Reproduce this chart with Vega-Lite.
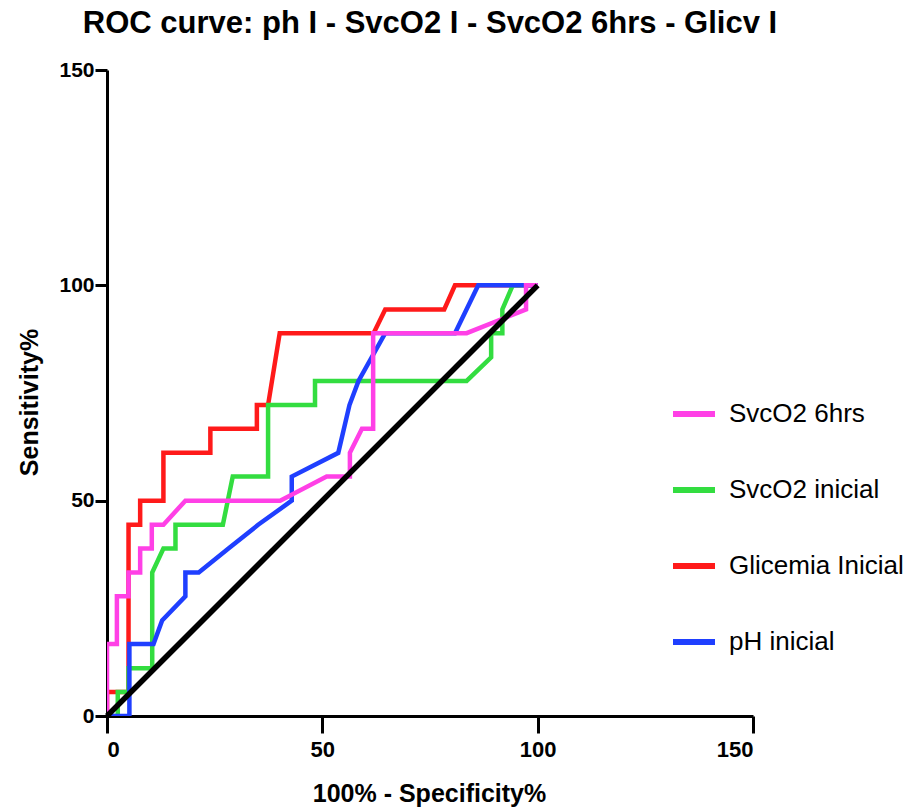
{
  "$schema": "https://vega.github.io/schema/vega-lite/v6.json",
  "width": 646,
  "height": 646,
  "autosize": {"type": "none"},
  "padding": {"left": 107, "top": 70, "right": 160, "bottom": 91},
  "background": "white",
  "title": {
    "text": "ROC curve: ph I - SvcO2 I - SvcO2 6hrs - Glicv I",
    "font": "Liberation Sans",
    "fontSize": 31,
    "fontWeight": "bold",
    "color": "black",
    "anchor": "middle",
    "frame": "group",
    "baseline": "alphabetic",
    "offset": 26,
    "dy": 31
  },
  "config": {
    "view": {"stroke": null},
    "axis": {
      "grid": false,
      "domainColor": "black",
      "domainWidth": 3,
      "tickColor": "black",
      "tickWidth": 3,
      "labelFont": "Liberation Sans",
      "labelFontWeight": "bold",
      "labelColor": "black",
      "titleFont": "Liberation Sans",
      "titleFontWeight": "bold",
      "titleColor": "black",
      "titleFontSize": 25
    }
  },
  "data": {
    "values": [
      {"s": "Glicemia Inicial", "i": 0, "x": 0, "y": 0},
      {"s": "Glicemia Inicial", "i": 1, "x": 0, "y": 5.56},
      {"s": "Glicemia Inicial", "i": 2, "x": 5.0, "y": 5.56},
      {"s": "Glicemia Inicial", "i": 3, "x": 5.0, "y": 44.4},
      {"s": "Glicemia Inicial", "i": 4, "x": 7.7, "y": 44.4},
      {"s": "Glicemia Inicial", "i": 5, "x": 7.7, "y": 50},
      {"s": "Glicemia Inicial", "i": 6, "x": 13.1, "y": 50},
      {"s": "Glicemia Inicial", "i": 7, "x": 13.1, "y": 61.1},
      {"s": "Glicemia Inicial", "i": 8, "x": 24.0, "y": 61.1},
      {"s": "Glicemia Inicial", "i": 9, "x": 24.0, "y": 66.7},
      {"s": "Glicemia Inicial", "i": 10, "x": 34.8, "y": 66.7},
      {"s": "Glicemia Inicial", "i": 11, "x": 34.8, "y": 72.2},
      {"s": "Glicemia Inicial", "i": 12, "x": 37.4, "y": 72.2},
      {"s": "Glicemia Inicial", "i": 13, "x": 40.1, "y": 88.9},
      {"s": "Glicemia Inicial", "i": 14, "x": 61.9, "y": 88.9},
      {"s": "Glicemia Inicial", "i": 15, "x": 64.6, "y": 94.4},
      {"s": "Glicemia Inicial", "i": 16, "x": 78.3, "y": 94.4},
      {"s": "Glicemia Inicial", "i": 17, "x": 80.8, "y": 100},
      {"s": "Glicemia Inicial", "i": 18, "x": 100, "y": 100},

      {"s": "SvcO2 inicial", "i": 0, "x": 0, "y": 0},
      {"s": "SvcO2 inicial", "i": 1, "x": 2.5, "y": 0},
      {"s": "SvcO2 inicial", "i": 2, "x": 2.5, "y": 5.56},
      {"s": "SvcO2 inicial", "i": 3, "x": 5.0, "y": 5.56},
      {"s": "SvcO2 inicial", "i": 4, "x": 5.0, "y": 11.1},
      {"s": "SvcO2 inicial", "i": 5, "x": 10.5, "y": 11.1},
      {"s": "SvcO2 inicial", "i": 6, "x": 10.5, "y": 33.3},
      {"s": "SvcO2 inicial", "i": 7, "x": 13.1, "y": 38.9},
      {"s": "SvcO2 inicial", "i": 8, "x": 15.9, "y": 38.9},
      {"s": "SvcO2 inicial", "i": 9, "x": 15.9, "y": 44.4},
      {"s": "SvcO2 inicial", "i": 10, "x": 26.9, "y": 44.4},
      {"s": "SvcO2 inicial", "i": 11, "x": 29.2, "y": 55.6},
      {"s": "SvcO2 inicial", "i": 12, "x": 37.4, "y": 55.6},
      {"s": "SvcO2 inicial", "i": 13, "x": 37.4, "y": 72.2},
      {"s": "SvcO2 inicial", "i": 14, "x": 48.3, "y": 72.2},
      {"s": "SvcO2 inicial", "i": 15, "x": 48.3, "y": 77.8},
      {"s": "SvcO2 inicial", "i": 16, "x": 83.5, "y": 77.8},
      {"s": "SvcO2 inicial", "i": 17, "x": 89.2, "y": 83.3},
      {"s": "SvcO2 inicial", "i": 18, "x": 89.2, "y": 88.9},
      {"s": "SvcO2 inicial", "i": 19, "x": 91.8, "y": 88.9},
      {"s": "SvcO2 inicial", "i": 20, "x": 91.8, "y": 94.4},
      {"s": "SvcO2 inicial", "i": 21, "x": 94.2, "y": 100},
      {"s": "SvcO2 inicial", "i": 22, "x": 100, "y": 100},

      {"s": "pH inicial", "i": 0, "x": 0, "y": 0},
      {"s": "pH inicial", "i": 1, "x": 5.2, "y": 0},
      {"s": "pH inicial", "i": 2, "x": 5.2, "y": 16.7},
      {"s": "pH inicial", "i": 3, "x": 10.8, "y": 16.7},
      {"s": "pH inicial", "i": 4, "x": 12.8, "y": 22.2},
      {"s": "pH inicial", "i": 5, "x": 18.2, "y": 27.8},
      {"s": "pH inicial", "i": 6, "x": 18.2, "y": 33.3},
      {"s": "pH inicial", "i": 7, "x": 21.3, "y": 33.3},
      {"s": "pH inicial", "i": 8, "x": 28.2, "y": 38.9},
      {"s": "pH inicial", "i": 9, "x": 35.1, "y": 44.4},
      {"s": "pH inicial", "i": 10, "x": 42.9, "y": 50},
      {"s": "pH inicial", "i": 11, "x": 42.9, "y": 55.6},
      {"s": "pH inicial", "i": 12, "x": 53.7, "y": 61.1},
      {"s": "pH inicial", "i": 13, "x": 56.3, "y": 72.2},
      {"s": "pH inicial", "i": 14, "x": 58.4, "y": 77.8},
      {"s": "pH inicial", "i": 15, "x": 64.6, "y": 88.9},
      {"s": "pH inicial", "i": 16, "x": 80.8, "y": 88.9},
      {"s": "pH inicial", "i": 17, "x": 86.2, "y": 100},
      {"s": "pH inicial", "i": 18, "x": 100, "y": 100},

      {"s": "SvcO2 6hrs", "i": 0, "x": 0, "y": 0},
      {"s": "SvcO2 6hrs", "i": 1, "x": 0, "y": 16.7},
      {"s": "SvcO2 6hrs", "i": 2, "x": 2.3, "y": 16.7},
      {"s": "SvcO2 6hrs", "i": 3, "x": 2.3, "y": 27.8},
      {"s": "SvcO2 6hrs", "i": 4, "x": 5.0, "y": 27.8},
      {"s": "SvcO2 6hrs", "i": 5, "x": 5.0, "y": 33.3},
      {"s": "SvcO2 6hrs", "i": 6, "x": 7.7, "y": 33.3},
      {"s": "SvcO2 6hrs", "i": 7, "x": 7.7, "y": 38.9},
      {"s": "SvcO2 6hrs", "i": 8, "x": 10.4, "y": 38.9},
      {"s": "SvcO2 6hrs", "i": 9, "x": 10.4, "y": 44.4},
      {"s": "SvcO2 6hrs", "i": 10, "x": 13.1, "y": 44.4},
      {"s": "SvcO2 6hrs", "i": 11, "x": 18.2, "y": 50},
      {"s": "SvcO2 6hrs", "i": 12, "x": 40.2, "y": 50},
      {"s": "SvcO2 6hrs", "i": 13, "x": 51.0, "y": 55.6},
      {"s": "SvcO2 6hrs", "i": 14, "x": 56.4, "y": 55.6},
      {"s": "SvcO2 6hrs", "i": 15, "x": 56.4, "y": 61.1},
      {"s": "SvcO2 6hrs", "i": 16, "x": 59.2, "y": 66.7},
      {"s": "SvcO2 6hrs", "i": 17, "x": 61.8, "y": 66.7},
      {"s": "SvcO2 6hrs", "i": 18, "x": 61.8, "y": 88.9},
      {"s": "SvcO2 6hrs", "i": 19, "x": 83.5, "y": 88.9},
      {"s": "SvcO2 6hrs", "i": 20, "x": 97.3, "y": 94.4},
      {"s": "SvcO2 6hrs", "i": 21, "x": 97.3, "y": 100},
      {"s": "SvcO2 6hrs", "i": 22, "x": 100, "y": 100}
    ]
  },
  "encoding": {
    "x": {
      "field": "x",
      "type": "quantitative",
      "scale": {"domain": [0, 150], "nice": false, "zero": false},
      "axis": {
        "values": [0, 50, 100, 150],
        "title": "100% - Specificity%",
        "labelFontSize": 22,
        "labelPadding": 6,
        "tickSize": 17,
        "titleX": 322,
        "titleY": 85,
        "titleAnchor": null,
        "titleAlign": "center",
        "titleBaseline": "alphabetic"
      }
    },
    "y": {
      "field": "y",
      "type": "quantitative",
      "scale": {"domain": [0, 150], "nice": false, "zero": false},
      "axis": {
        "values": [0, 50, 100, 150],
        "title": "Sensitivity%",
        "labelFontSize": 21,
        "labelPadding": 1,
        "tickSize": 12,
        "titleX": -70,
        "titleY": 332,
        "titleAngle": -90,
        "titleAlign": "center",
        "titleBaseline": "alphabetic"
      }
    }
  },
  "layer": [
    {
      "transform": [{"filter": "datum.s === 'Glicemia Inicial'"}],
      "mark": {"type": "line", "strokeWidth": 4.5, "clip": true},
      "encoding": {
        "color": {
          "field": "s", "type": "nominal",
          "scale": {"domain": ["SvcO2 6hrs", "SvcO2 inicial", "Glicemia Inicial", "pH inicial"], "range": ["#FF40E6", "#33DD40", "#FF1A1A", "#1F3FFF"]},
          "legend": {"title": null, "orient": "none", "legendX": 563, "legendY": 320, "symbolType": "stroke", "symbolSize": 1764, "symbolStrokeWidth": 6, "labelFont": "Liberation Sans", "labelFontSize": 26, "labelColor": "black", "labelOffset": 11, "labelLimit": 0, "rowPadding": 39, "padding": 0}
        },
        "order": {"field": "i", "type": "quantitative"}
      }
    },
    {
      "transform": [{"filter": "datum.s === 'SvcO2 inicial'"}],
      "mark": {"type": "line", "strokeWidth": 4.5, "clip": true},
      "encoding": {
        "color": {
          "field": "s", "type": "nominal",
          "scale": {"domain": ["SvcO2 6hrs", "SvcO2 inicial", "Glicemia Inicial", "pH inicial"], "range": ["#FF40E6", "#33DD40", "#FF1A1A", "#1F3FFF"]},
          "legend": {"title": null, "orient": "none", "legendX": 563, "legendY": 320, "symbolType": "stroke", "symbolSize": 1764, "symbolStrokeWidth": 6, "labelFont": "Liberation Sans", "labelFontSize": 26, "labelColor": "black", "labelOffset": 11, "labelLimit": 0, "rowPadding": 39, "padding": 0}
        },
        "order": {"field": "i", "type": "quantitative"}
      }
    },
    {
      "transform": [{"filter": "datum.s === 'pH inicial'"}],
      "mark": {"type": "line", "strokeWidth": 4.5, "clip": true},
      "encoding": {
        "color": {
          "field": "s", "type": "nominal",
          "scale": {"domain": ["SvcO2 6hrs", "SvcO2 inicial", "Glicemia Inicial", "pH inicial"], "range": ["#FF40E6", "#33DD40", "#FF1A1A", "#1F3FFF"]},
          "legend": {"title": null, "orient": "none", "legendX": 563, "legendY": 320, "symbolType": "stroke", "symbolSize": 1764, "symbolStrokeWidth": 6, "labelFont": "Liberation Sans", "labelFontSize": 26, "labelColor": "black", "labelOffset": 11, "labelLimit": 0, "rowPadding": 39, "padding": 0}
        },
        "order": {"field": "i", "type": "quantitative"}
      }
    },
    {
      "transform": [{"filter": "datum.s === 'SvcO2 6hrs'"}],
      "mark": {"type": "line", "strokeWidth": 4.5, "clip": true},
      "encoding": {
        "color": {
          "field": "s", "type": "nominal",
          "scale": {"domain": ["SvcO2 6hrs", "SvcO2 inicial", "Glicemia Inicial", "pH inicial"], "range": ["#FF40E6", "#33DD40", "#FF1A1A", "#1F3FFF"]},
          "legend": {"title": null, "orient": "none", "legendX": 563, "legendY": 320, "symbolType": "stroke", "symbolSize": 1764, "symbolStrokeWidth": 6, "labelFont": "Liberation Sans", "labelFontSize": 26, "labelColor": "black", "labelOffset": 11, "labelLimit": 0, "rowPadding": 39, "padding": 0}
        },
        "order": {"field": "i", "type": "quantitative"}
      }
    },
    {
      "data": {"values": [{"x": 0, "y": 0}, {"x": 100, "y": 100}]},
      "mark": {"type": "line", "strokeWidth": 5.5, "color": "black"},
      "encoding": {}
    }
  ]
}
